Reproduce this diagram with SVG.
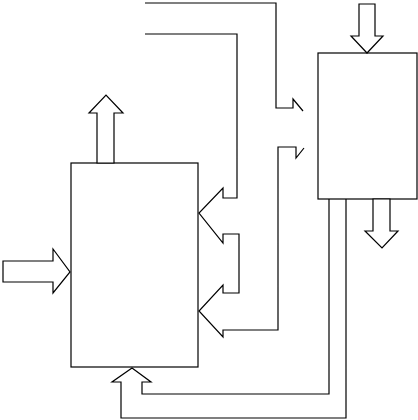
<svg xmlns="http://www.w3.org/2000/svg" width="418" height="420" viewBox="0 0 418 420">
<style>
.ln{fill:none;stroke:#000;stroke-width:1.2;stroke-linejoin:miter}
.bx{fill:#fff;stroke:#000;stroke-width:1.2}
</style>
<rect width="418" height="420" fill="#fff"/>
<g id="connectors">
<polyline class="ln" points="145,3 276,3 276,108 293,108 293,99 303,111"/>
<polyline class="ln" points="145,34 237,34 237,198 223,198 223,188 199,213 223,243 223,234 239,234 239,293 223,293 223,285 199,311 223,337 223,330 278,330 278,147 296,147 296,158 304,148"/>
<polyline class="ln" points="329,199 329,394 142,394 142,382 151,382 132,368 112,382 121,382 121,418 346,418 346,199"/>
</g>
<g id="left-box">
<rect class="bx" x="71" y="163" width="127" height="204"/>
</g>
<g id="right-box">
<rect class="bx" x="318" y="53" width="99" height="146"/>
</g>
<g id="left-out-arrow">
<polygon class="bx" points="97,163 97,113 89,113 106,95 123,113 114,113 114,163"/>
</g>
<g id="left-in-arrow">
<polygon class="bx" points="3,261 53,261 53,249 70,272 53,293 53,282 3,282"/>
</g>
<g id="right-in-arrow">
<polygon class="bx" points="359,4 375,4 375,36 383,36 367,53 351,36 359,36"/>
</g>
<g id="right-out-arrow">
<polygon class="bx" points="373,199 373,231 365,231 382,248 398,231 390,231 390,199"/>
</g>
</svg>
